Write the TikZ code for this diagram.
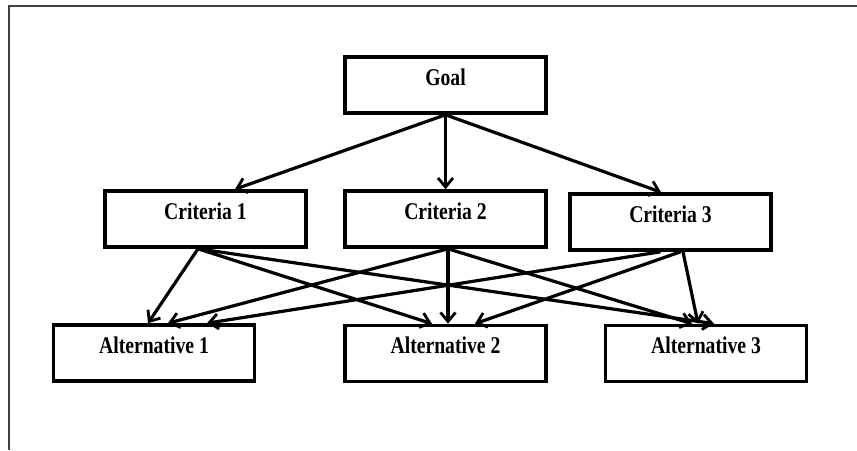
\documentclass[tikz,border=0pt]{standalone}
\usepackage{fontspec}
\setmainfont{Liberation Serif}[FakeStretch=0.82]
\usetikzlibrary{arrows.meta}

\begin{document}
\begin{tikzpicture}[x=1pt,y=-1pt,
    box/.style={draw, line width=3.6pt, minimum width=201pt, inner xsep=0pt, inner ysep=0pt,
      text height=28pt, text depth=28pt, font=\bfseries\fontsize{24}{26}\selectfont},
    link/.style={line width=3.2pt, -{Straight Barb[length=9pt,width=15pt,line width=2.8pt]}}]
      \useasboundingbox (0,0) rectangle (857,450);
      \draw[line width=2pt, black!75] (857,5.5) -- (8.5,5.5) -- (8.5,450);
      \node[box] (goal) at (445.5,85) {Goal};
      \node[box] (c1) at (205.5,219) {Criteria 1};
      \node[box] (c2) at (445.5,219) {Criteria 2};
      \node[box] (c3) at (670.5,222) {Criteria 3};
      \node[box] (a1) at (154,353) {Alternative 1};
      \node[box] (a2) at (445.5,353.5) {Alternative 2};
      \node[box] (a3) at (706,353.5) {Alternative 3};
      \draw[link] (goal.south) -- ([xshift=29.5pt]c1.north);
      \draw[link] (goal.south) -- (c2.north);
      \draw[link] (goal.south) -- ([xshift=-9.5pt]c3.north);
      \draw[link] ([xshift=-7.5pt]c1.south) -- ([xshift=-6pt]a1.north);
      \draw[link] ([xshift=-7.5pt]c1.south) -- ([xshift=-13.5pt]a2.north);
      \draw[link] ([xshift=-7.5pt]c1.south) -- ([xshift=8pt]a3.north);
      \draw[link] ([xshift=2.5pt]c2.south) -- ([xshift=14pt]a1.north);
      \draw[link] ([xshift=2.5pt]c2.south) -- ([xshift=2.5pt]a2.north);
      \draw[link] ([xshift=2.5pt]c2.south) -- ([xshift=-14pt]a3.north);
      \draw[link] ([xshift=-10pt]c3.south) -- ([xshift=53pt]a1.north);
      \draw[link] ([xshift=10pt]c3.south) -- ([xshift=29.5pt]a2.north);
      \draw[link] ([xshift=12.5pt]c3.south) -- ([xshift=-8pt]a3.north);
    \end{tikzpicture}
\end{document}
